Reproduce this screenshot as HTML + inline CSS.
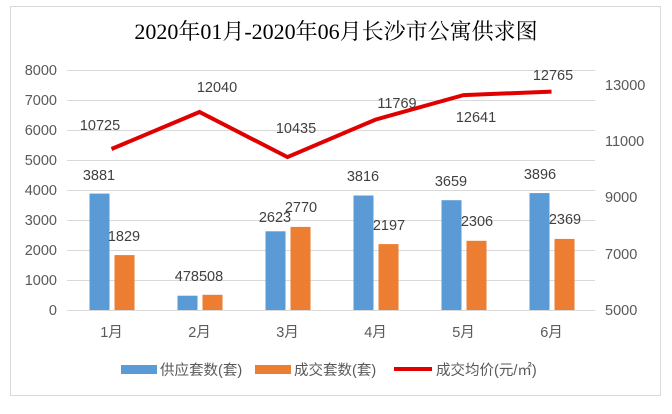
<!DOCTYPE html>
<html><head><meta charset="utf-8"><style>
body{margin:0;background:#fff;}
svg text{font-family:"Liberation Sans","Noto Sans CJK SC",sans-serif;font-size:14.5px;fill:#404040;}
</style></head><body>
<svg width="672" height="409" xmlns="http://www.w3.org/2000/svg">
<rect x="10.5" y="6.5" width="650" height="389" fill="#fff" stroke="#d9d9d9"/>
<text x="336" y="39" text-anchor="middle" style="font-family:'Liberation Serif','Noto Serif CJK SC',serif;font-size:22px;fill:#000">2020年01月-2020年06月长沙市公寓供求图</text>
<g stroke="#d9d9d9" stroke-width="1">
<line x1="67" x2="595" y1="70.5" y2="70.5"/><line x1="67" x2="595" y1="100.5" y2="100.5"/>
<line x1="67" x2="595" y1="130.5" y2="130.5"/><line x1="67" x2="595" y1="160.5" y2="160.5"/>
<line x1="67" x2="595" y1="190.5" y2="190.5"/><line x1="67" x2="595" y1="220.5" y2="220.5"/>
<line x1="67" x2="595" y1="250.5" y2="250.5"/><line x1="67" x2="595" y1="280.5" y2="280.5"/>
<line x1="67" x2="595" y1="310.5" y2="310.5"/>
</g>
<g text-anchor="end">
<text x="57" y="75" style="fill:#595959">8000</text><text x="57" y="105" style="fill:#595959">7000</text>
<text x="57" y="135" style="fill:#595959">6000</text><text x="57" y="165" style="fill:#595959">5000</text>
<text x="57" y="195" style="fill:#595959">4000</text><text x="57" y="225" style="fill:#595959">3000</text>
<text x="57" y="255" style="fill:#595959">2000</text><text x="57" y="285" style="fill:#595959">1000</text>
<text x="57" y="315" style="fill:#595959">0</text>
</g>
<g>
<text x="605" y="90" style="fill:#595959">13000</text><text x="605" y="146" style="fill:#595959">11000</text>
<text x="605" y="202" style="fill:#595959">9000</text><text x="605" y="259" style="fill:#595959">7000</text>
<text x="605" y="315" style="fill:#595959">5000</text>
</g>
<g fill="#5b9bd5">
<rect x="89.5" y="193.6" width="20" height="116.4"/><rect x="177.5" y="295.7" width="20" height="14.3"/>
<rect x="265.5" y="231.3" width="20" height="78.7"/><rect x="353.5" y="195.5" width="20" height="114.5"/>
<rect x="441.5" y="200.2" width="20" height="109.8"/><rect x="529.5" y="193.1" width="20" height="116.9"/>
</g>
<g fill="#ed7d31">
<rect x="114.5" y="255.1" width="20" height="54.9"/><rect x="202.5" y="294.8" width="20" height="15.2"/>
<rect x="290.5" y="226.9" width="20" height="83.1"/><rect x="378.5" y="244.1" width="20" height="65.9"/>
<rect x="466.5" y="240.8" width="20" height="69.2"/><rect x="554.5" y="238.9" width="20" height="71.1"/>
</g>
<polyline points="111.5,149 199.5,112 287.5,157.1 375.5,119.6 463.5,95.1 551.5,91.6" fill="none" stroke="#e00000" stroke-width="4" stroke-linejoin="miter"/>
<g text-anchor="middle">
<text x="99" y="180">3881</text><text x="124" y="241">1829</text>
<text x="199" y="281">478508</text>
<text x="275" y="222">2623</text><text x="301" y="212">2770</text>
<text x="363" y="181">3816</text><text x="389" y="230">2197</text>
<text x="451" y="186">3659</text><text x="477" y="226">2306</text>
<text x="540" y="179">3896</text><text x="565" y="224">2369</text>
<text x="100" y="130">10725</text><text x="217" y="92">12040</text>
<text x="296" y="133">10435</text><text x="397" y="108">11769</text>
<text x="476" y="122">12641</text><text x="553" y="80">12765</text>
</g>
<g text-anchor="middle">
<text x="111.5" y="337" style="fill:#595959">1月</text><text x="199.5" y="337" style="fill:#595959">2月</text>
<text x="287.5" y="337" style="fill:#595959">3月</text><text x="375.5" y="337" style="fill:#595959">4月</text>
<text x="463.5" y="337" style="fill:#595959">5月</text><text x="551.5" y="337" style="fill:#595959">6月</text>
</g>
<rect x="121" y="365" width="36" height="9" fill="#5b9bd5"/>
<text x="160" y="375" style="fill:#595959">供应套数(套)</text>
<rect x="255" y="365" width="36" height="9" fill="#ed7d31"/>
<text x="294" y="375" style="fill:#595959">成交套数(套)</text>
<line x1="394" x2="432" y1="369" y2="369" stroke="#e00000" stroke-width="4"/>
<text x="436" y="375" style="fill:#595959">成交均价(元/㎡)</text>
</svg>
</body></html>
